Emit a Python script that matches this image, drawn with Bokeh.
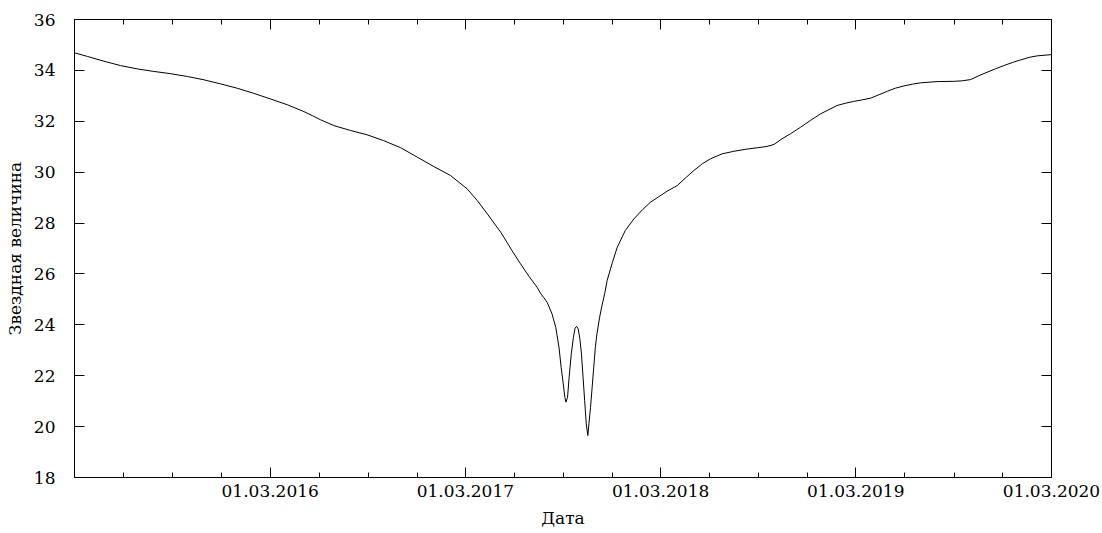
import pandas as pd
from bokeh.plotting import figure
from bokeh.models import (DatetimeAxis, LinearAxis, FixedTicker, DatetimeTickFormatter,
                          CustomJSTickFormatter, Range1d)
from bokeh.embed import file_html
from bokeh.resources import INLINE

# ---- data ----
start_date = "2015-03-01"
end_date = "2020-03-01"
# days elapsed since 01.03.2015
days = [
    0, 24, 55, 86, 117, 148, 180, 211, 242, 273, 304, 335, 366, 398, 429, 445, 460,
    485, 516, 547, 578, 610, 641, 672, 703, 734, 753, 772, 797, 803, 818, 834, 850,
    865, 872, 878, 884, 893, 900, 906, 910, 914, 917, 919, 922, 925, 929, 933, 936,
    939, 942, 945, 948, 951, 954, 957, 960, 962, 965, 968, 971, 974, 977, 982, 987,
    992, 996, 1006, 1015, 1030, 1046, 1062, 1077, 1093, 1108, 1127, 1143, 1158, 1174,
    1189, 1211, 1233, 1255, 1277, 1295, 1308, 1323, 1339, 1358, 1376, 1395, 1411,
    1426, 1442, 1457, 1473, 1489, 1504, 1520, 1535, 1551, 1567, 1582, 1613, 1644,
    1660, 1676, 1691, 1707, 1722, 1738, 1754, 1769, 1785, 1800, 1827,
]
magnitude = [
    34.69, 34.55, 34.36, 34.19, 34.06, 33.96, 33.87, 33.76, 33.63, 33.47, 33.30, 33.10,
    32.88, 32.65, 32.38, 32.22, 32.06,
    31.83, 31.64, 31.47, 31.24, 30.96, 30.59, 30.22, 29.87, 29.35, 28.89, 28.36, 27.64,
    27.44, 26.92, 26.40, 25.90,
    25.48, 25.22, 25.06, 24.88, 24.43, 23.90, 23.12, 22.33, 21.68, 21.15, 20.96, 21.15,
    21.94, 22.86, 23.51, 23.87,
    23.94, 23.84, 23.45, 22.86, 21.94, 21.02, 20.11, 19.65, 20.11, 20.76, 21.55, 22.33,
    23.12, 23.65, 24.30, 24.82,
    25.28, 25.74, 26.46, 27.05, 27.71, 28.16, 28.52, 28.82, 29.04, 29.25, 29.47, 29.78,
    30.06, 30.33,
    30.52, 30.72, 30.82, 30.90, 30.96, 31.01, 31.09, 31.31, 31.51, 31.77, 32.03, 32.29,
    32.46,
    32.62, 32.71, 32.78, 32.84, 32.91, 33.04, 33.18, 33.30, 33.39, 33.46, 33.51, 33.56,
    33.57,
    33.59, 33.64, 33.79, 33.93, 34.06, 34.19, 34.31, 34.41, 34.51, 34.57, 34.62,
]
major_dates = ["2016-03-01", "2017-03-01", "2018-03-01", "2019-03-01", "2020-03-01"]
minor_dates = ["2015-06-01", "2015-09-01", "2015-12-01",
               "2016-06-01", "2016-09-01", "2016-12-01",
               "2017-06-01", "2017-09-01", "2017-12-01",
               "2018-06-01", "2018-09-01", "2018-12-01",
               "2019-06-01", "2019-09-01", "2019-12-01"]
y_ticks = [18, 20, 22, 24, 26, 28, 30, 32, 34, 36]
x_label = "Дата"
y_label = "Звездная величина"

FONT = "DejaVu Serif"
FSIZE = "17px"


def ms(d):
    return pd.Timestamp(d).value / 1e6


x = pd.Timestamp(start_date) + pd.to_timedelta(days, unit="D")

p = figure(width=1102, height=533, output_backend="svg", toolbar_location=None,
           x_axis_type=None, y_axis_type=None,
           x_range=Range1d(pd.Timestamp(start_date), pd.Timestamp(end_date)),
           y_range=Range1d(18, 36),
           min_border_left=74, min_border_right=51, min_border_top=19, min_border_bottom=56)
p.grid.visible = False
p.outline_line_color = "black"
p.outline_line_width = 1
p.background_fill_color = "white"
p.border_fill_color = "white"

xt = FixedTicker(ticks=[ms(d) for d in major_dates], minor_ticks=[ms(d) for d in minor_dates])
yt = FixedTicker(ticks=y_ticks, minor_ticks=[])


def style(ax, labels=True):
    ax.axis_line_color = "black"
    ax.axis_line_width = 1
    ax.major_tick_line_color = "black"
    ax.minor_tick_line_color = "black"
    ax.major_tick_in = 10
    ax.major_tick_out = 0
    ax.minor_tick_in = 5
    ax.minor_tick_out = 0
    ax.major_label_text_font = FONT
    ax.major_label_text_font_size = FSIZE
    ax.major_label_text_color = "black"
    ax.axis_label_text_font = FONT
    ax.axis_label_text_font_size = FSIZE
    ax.axis_label_text_font_style = "normal"
    ax.axis_label_text_color = "black"
    if not labels:
        ax.formatter = CustomJSTickFormatter(code="return ''")
        ax.major_label_standoff = 0


fmt = DatetimeTickFormatter(days="%d.%m.%Y", months="%d.%m.%Y", years="%d.%m.%Y",
                            hours="%d.%m.%Y", minutes="%d.%m.%Y", seconds="%d.%m.%Y",
                            milliseconds="%d.%m.%Y", microseconds="%d.%m.%Y",
                            hourmin="%d.%m.%Y", minsec="%d.%m.%Y")

xb = DatetimeAxis(ticker=xt, formatter=fmt, axis_label=x_label)
style(xb)
xb.major_label_standoff = 7
xb.axis_label_standoff = 8
p.add_layout(xb, "below")

xtop = DatetimeAxis(ticker=xt)
style(xtop, labels=False)
p.add_layout(xtop, "above")

yl = LinearAxis(ticker=yt, axis_label=y_label)
style(yl)
yl.minor_tick_line_color = None
yl.major_label_standoff = 19
yl.axis_label_standoff = 6
p.add_layout(yl, "left")

yr = LinearAxis(ticker=yt)
style(yr, labels=False)
yr.minor_tick_line_color = None
p.add_layout(yr, "right")

p.line(x, magnitude, line_color="black", line_width=1.0)

open("out.html", "w").write(file_html(p, INLINE))
